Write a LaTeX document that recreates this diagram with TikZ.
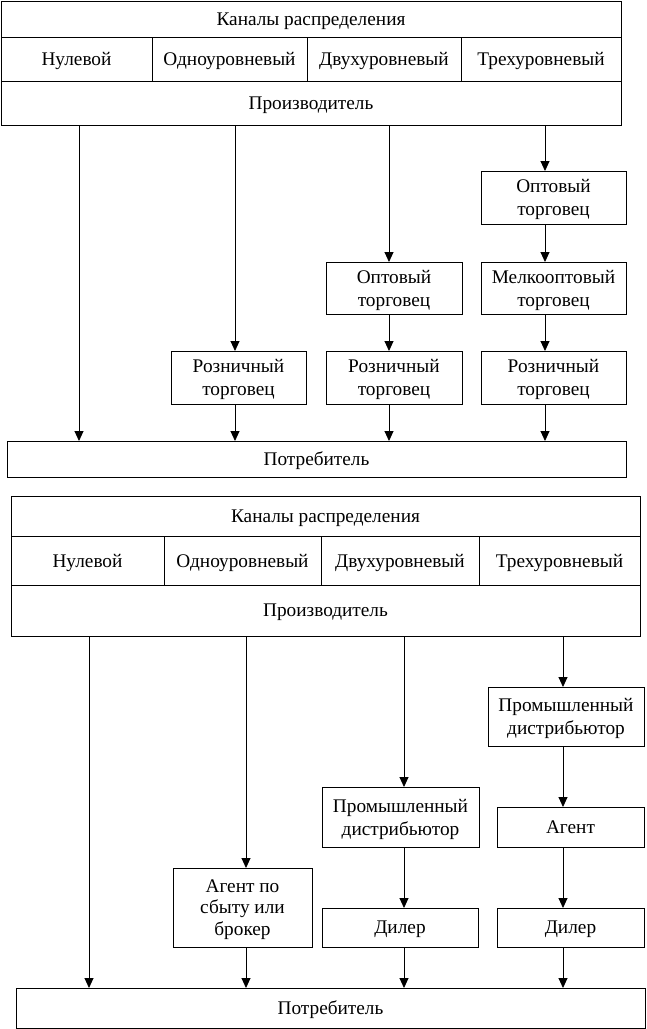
\documentclass[tikz,border=0pt]{standalone}
\usepackage{fontspec}
\setmainfont{Liberation Serif}
\usetikzlibrary{arrows.meta}
\begin{document}
\begin{tikzpicture}[x=1pt,y=-1pt,
  box/.style={draw,line width=1pt,inner sep=0pt,outer sep=0pt,align=center,
    text depth=0pt,font=\fontsize{19.3}{23}\selectfont},
  arr/.style={line width=0.9pt,-{Triangle[length=10pt,width=9pt]}}]
\useasboundingbox (0,0) rectangle (646,1029);
% ---------- top diagram ----------
\node[box,minimum width=620,minimum height=36] (tA) at (311,19) {Каналы распределения};
\node[box,minimum width=151,minimum height=44] (a1) at (76.5,59) {Нулевой};
\node[box,minimum width=155,minimum height=44] (a2) at (229.5,59) {Одноуровневый};
\node[box,minimum width=154,minimum height=44] (a3) at (384,59) {Двухуровневый};
\node[box,minimum width=160,minimum height=44] (a4) at (541,59) {Трехуровневый};
\node[box,minimum width=620,minimum height=44] (pA) at (311,103) {Производитель};
\node[box,minimum width=145,minimum height=53] (opt4) at (553.5,197.5) {Оптовый\\торговец};
\node[box,minimum width=145,minimum height=52] (melk4) at (553.5,288) {Мелкооптовый\\торговец};
\node[box,minimum width=145,minimum height=53] (roz4) at (553.5,377.5) {Розничный\\торговец};
\node[box,minimum width=136,minimum height=52] (opt3) at (394,288) {Оптовый\\торговец};
\node[box,minimum width=136,minimum height=53] (roz3) at (394,377.5) {Розничный\\торговец};
\node[box,minimum width=135,minimum height=53] (roz2) at (238.5,377.5) {Розничный\\торговец};
\node[box,minimum width=619,minimum height=36] (cA) at (316.5,459) {Потребитель};
\coordinate (xa1) at (79,0);
\coordinate (xa2) at (235,0);
\coordinate (xa3) at (389,0);
\coordinate (xa4) at (545,0);
\draw[arr] (pA.south -| xa1) -- (cA.north -| xa1);
\draw[arr] (pA.south -| xa2) -- (roz2.north -| xa2);
\draw[arr] (roz2.south -| xa2) -- (cA.north -| xa2);
\draw[arr] (pA.south -| xa3) -- (opt3.north -| xa3);
\draw[arr] (opt3.south -| xa3) -- (roz3.north -| xa3);
\draw[arr] (roz3.south -| xa3) -- (cA.north -| xa3);
\draw[arr] (pA.south -| xa4) -- (opt4.north -| xa4);
\draw[arr] (opt4.south -| xa4) -- (melk4.north -| xa4);
\draw[arr] (melk4.south -| xa4) -- (roz4.north -| xa4);
\draw[arr] (roz4.south -| xa4) -- (cA.north -| xa4);
% ---------- bottom diagram ----------
\node[box,minimum width=629,minimum height=40] (tB) at (325.5,516) {Каналы распределения};
\node[box,minimum width=153,minimum height=49] (b1) at (87.5,560.5) {Нулевой};
\node[box,minimum width=157,minimum height=49] (b2) at (242.5,560.5) {Одноуровневый};
\node[box,minimum width=158,minimum height=49] (b3) at (400,560.5) {Двухуровневый};
\node[box,minimum width=161,minimum height=49] (b4) at (559.5,560.5) {Трехуровневый};
\node[box,minimum width=629,minimum height=51] (pB) at (325.5,610.5) {Производитель};
\node[box,minimum width=156,minimum height=59] (prom4) at (566,716.5) {Промышленный\\дистрибьютор};
\node[box,minimum width=147,minimum height=40] (ag4) at (570.5,827) {Агент};
\node[box,minimum width=147,minimum height=39] (dil4) at (570.5,927.5) {Дилер};
\node[box,minimum width=157,minimum height=60] (prom3) at (400.5,817) {Промышленный\\дистрибьютор};
\node[box,minimum width=156,minimum height=39] (dil3) at (400,927.5) {Дилер};
\node[box,minimum width=139,minimum height=79,
  font=\fontsize{19.3}{21.5}\selectfont] (agb2) at (242.5,907.5) {Агент по\\сбыту или\\брокер};
\node[box,minimum width=629,minimum height=40] (cB) at (330.5,1008) {Потребитель};
\coordinate (xb1) at (89,0);
\coordinate (xb2) at (246,0);
\coordinate (xb3) at (404,0);
\coordinate (xb4) at (563,0);
\draw[arr] (pB.south -| xb1) -- (cB.north -| xb1);
\draw[arr] (pB.south -| xb2) -- (agb2.north -| xb2);
\draw[arr] (agb2.south -| xb2) -- (cB.north -| xb2);
\draw[arr] (pB.south -| xb3) -- (prom3.north -| xb3);
\draw[arr] (prom3.south -| xb3) -- (dil3.north -| xb3);
\draw[arr] (dil3.south -| xb3) -- (cB.north -| xb3);
\draw[arr] (pB.south -| xb4) -- (prom4.north -| xb4);
\draw[arr] (prom4.south -| xb4) -- (ag4.north -| xb4);
\draw[arr] (ag4.south -| xb4) -- (dil4.north -| xb4);
\draw[arr] (dil4.south -| xb4) -- (cB.north -| xb4);
\end{tikzpicture}
\end{document}
